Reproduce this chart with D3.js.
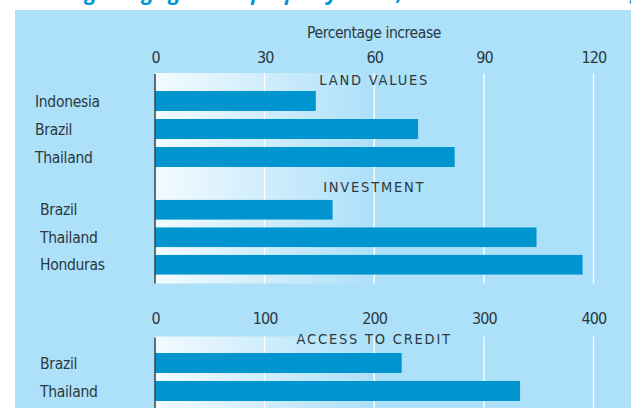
<!DOCTYPE html>
<html>
<head>
<meta charset="utf-8">
<script src="https://cdn.jsdelivr.net/npm/d3@7"></script>
<style>
    body { margin: 0; background: #fff; }
    svg { display: block; }
    text { font-family: "DejaVu Sans Condensed", "Liberation Sans Narrow", sans-serif; fill: #2b3940; }
</style>
</head>
<body>
<div id="chart"></div>
<script>
// values (percentage increase after titling)
const landCountries = ["Indonesia", "Brazil", "Thailand"]
const landValues = [44, 72, 82]
const investCountries = ["Brazil", "Thailand", "Honduras"]
const investValues = [162, 348, 390]
const creditCountries = ["Brazil", "Thailand"]
const creditValues = [225, 333]
const topTicks = [0, 30, 60, 90, 120]
const bottomTicks = [0, 100, 200, 300, 400]

const width = 631
const height = 408
const panelColor = "#ade0f9"
const barColor = "#0095ce"

const svg = d3.select("#chart")
    .append("svg")
    .attr("width", width)
    .attr("height", height)

// gradient behind the left part of the plot
const grad = svg.append("defs").append("linearGradient")
    .attr("id", "fade")
    .attr("x1", "0%").attr("x2", "100%")
grad.append("stop").attr("offset", "0%").attr("stop-color", "#f3fbff")
grad.append("stop").attr("offset", "100%").attr("stop-color", panelColor)

// title, cut off by the top edge in the source (only descenders show)
svg.append("text")
    .attr("x", 338)
    .attr("y", 0)
    .attr("text-anchor", "middle")
    .style("font-family", "'Open Sans', sans-serif")
    .style("font-size", "21px")
    .style("font-weight", "bold")
    .style("font-style", "italic")
    .style("fill", "#0096d6")
    .text("Titling brings gains in property value, investment and lending")

svg.append("rect")
    .attr("x", 15).attr("y", 10)
    .attr("width", width - 15).attr("height", height - 10)
    .attr("fill", panelColor)

const xPct = d3.scaleLinear().domain([0, 120]).range([155, 593.5])
const xBig = d3.scaleLinear().domain([0, 400]).range([155, 593.5])

// plot blocks: gradient, gridlines, zero line
const blocks = [[73, 283.5], [336.5, 408]]
blocks.forEach(([y0, y1]) => {
    svg.append("rect")
        .attr("x", xPct(0)).attr("y", y0)
        .attr("width", xPct(60) - xPct(0)).attr("height", y1 - y0)
        .attr("fill", "url(#fade)")
    svg.selectAll(null)
        .data(topTicks.slice(1))
        .enter()
        .append("line")
        .attr("x1", d => xPct(d)).attr("x2", d => xPct(d))
        .attr("y1", y0).attr("y2", y1)
        .style("stroke", "#fff")
        .style("stroke-width", 1.3)
})

// axes
const drawAxis = (scale, ticks, y) => {
    const g = svg.append("g")
        .attr("transform", `translate(0,${y})`)
        .call(d3.axisTop(scale).tickValues(ticks).tickSize(0).tickPadding(0))
    g.select(".domain").remove()
    g.selectAll("text")
        .style("font-family", null)
        .style("font-size", "16px")
        .style("letter-spacing", "-0.9px")
        .attr("fill", null)
}
drawAxis(xPct, topTicks, 63)
drawAxis(xBig, bottomTicks, 324)

svg.append("text")
    .attr("x", 374)
    .attr("y", 38)
    .attr("text-anchor", "middle")
    .style("font-size", "15.5px")
    .style("letter-spacing", "-0.4px")
    .text("Percentage increase")

const drawSection = (title, titleY, countries, values, scale, range, labelX) => {
    const y = d3.scaleBand()
        .domain(countries)
        .range(range)
        .paddingInner(8 / 28)
        .paddingOuter(4 / 28)

    svg.append("text")
        .attr("x", xPct(60))
        .attr("y", titleY)
        .attr("text-anchor", "middle")
        .style("font-size", "14.5px")
        .style("letter-spacing", "1.8px")
        .text(title)

    svg.selectAll(null)
        .data(values)
        .enter()
        .append("rect")
        .attr("x", scale(0))
        .attr("y", (d, i) => y(countries[i]))
        .attr("width", d => scale(d) - scale(0))
        .attr("height", y.bandwidth())
        .attr("fill", barColor)

    svg.selectAll(null)
        .data(countries)
        .enter()
        .append("text")
        .attr("x", labelX)
        .attr("y", d => y(d) + y.bandwidth() / 2)
        .attr("dy", "0.36em")
        .style("font-size", "15.5px")
        .style("letter-spacing", "-0.3px")
        .text(d => d)
}

drawSection("LAND VALUES", 85, landCountries, landValues, xPct, [87, 171], 35)
drawSection("INVESTMENT", 192, investCountries, investValues, xBig, [196, 278.5], 40)
drawSection("ACCESS TO CREDIT", 344, creditCountries, creditValues, xBig, [349, 405], 40)

// zero lines on top of the bars
blocks.forEach(([y0, y1]) => {
    svg.append("line")
        .attr("x1", xPct(0)).attr("x2", xPct(0))
        .attr("y1", y0 + 1).attr("y2", y1)
        .style("stroke", "#3d4448")
        .style("stroke-width", 1.5)
})
</script>
</body>
</html>
